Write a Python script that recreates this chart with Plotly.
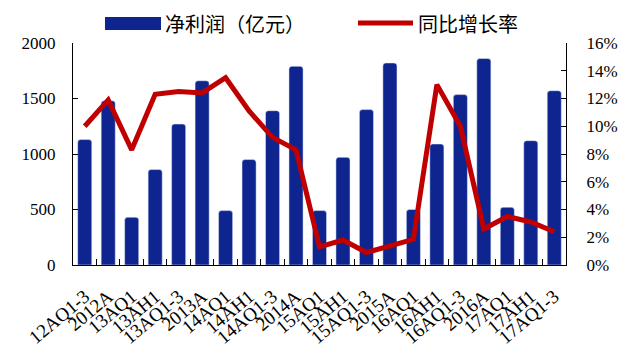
import plotly.graph_objects as go

categories = ["12AQ1-3", "2012A", "13AQ1", "13AH1", "13AQ1-3", "2013A", "14AQ1", "14AH1",
              "14AQ1-3", "2014A", "15AQ1", "15AH1", "15AQ1-3", "2015A", "16AQ1", "16AH1",
              "16AQ1-3", "2016A", "17AQ1", "17AH1", "17AQ1-3"]
net_profit = [1130, 1480, 430, 860, 1270, 1660, 490, 950, 1390, 1790, 490, 970, 1400, 1820,
              500, 1090, 1535, 1860, 520, 1120, 1570]
growth = [10.0, 11.9, 8.3, 12.3, 12.5, 12.4, 13.5, 11.1, 9.2, 8.3, 1.3, 1.8, 0.9, 1.4,
          1.85, 13.0, 10.0, 2.6, 3.5, 3.1, 2.4]
left_ticks = [0, 500, 1000, 1500, 2000]
right_ticks = [0, 2, 4, 6, 8, 10, 12, 14, 16]
name_bar = "净利润（亿元）"
name_line = "同比增长率"

BAR = "#0E2590"
RED = "#C00000"
SERIF = "Liberation Serif, Times New Roman, serif"
CJK = "Noto Sans CJK SC"

L, R, T, B = 73, 62, 43, 98
PW = 628 - L - R
PH = 363 - T - B


def px(x):
    return (x - L) / PW


def py(y):
    return 1 + (T - y) / PH


fig = go.Figure()
fig.add_trace(go.Bar(x=categories, y=net_profit, name=name_bar, marker_color=BAR,
                     width=0.6, showlegend=False))
fig.add_trace(go.Scatter(x=categories, y=growth, name=name_line, yaxis="y2", mode="lines",
                         line=dict(color=RED, width=5), showlegend=False))

fig.update_layout(
    width=628, height=363,
    margin=dict(l=L, r=R, t=T, b=B),
    paper_bgcolor="white", plot_bgcolor="white",
    barcornerradius=3,
    xaxis=dict(type="category", tickangle=-40, showline=True, linecolor="black", linewidth=1,
               ticks="inside", ticklen=6, tickson="boundaries", tickcolor="black",
               ticklabelstandoff=12, automargin=False,
               tickfont=dict(family=SERIF, size=19, color="black"), showgrid=False,
               range=[-0.5, len(categories) - 0.5]),
    yaxis=dict(range=[0, 2000], tickvals=left_ticks, showline=True, linecolor="black",
               ticks="inside", ticklen=5, tickcolor="black", showgrid=False, zeroline=False,
               ticklabelstandoff=13, automargin=False,
               tickfont=dict(family=SERIF, size=17, color="black")),
    yaxis2=dict(range=[0, 16], tickvals=right_ticks, ticktext=[f"{v}%" for v in right_ticks],
                overlaying="y", side="right", showline=True, linecolor="black",
                ticks="inside", ticklen=5, tickcolor="black", showgrid=False, zeroline=False,
                ticklabelstandoff=16, automargin=False,
                tickfont=dict(family=SERIF, size=17, color="black")),
)

# custom legend
fig.add_shape(type="rect", xref="paper", yref="paper", x0=px(105), x1=px(161),
              y0=py(30), y1=py(17), fillcolor=BAR, line_width=0, layer="above")
fig.add_annotation(xref="paper", yref="paper", x=px(163), y=py(24),
                   text=name_bar, showarrow=False, xanchor="left", yanchor="middle",
                   font=dict(family=CJK, size=20, color="black"))
fig.add_shape(type="line", xref="paper", yref="paper", x0=px(358), x1=px(413),
              y0=py(23), y1=py(23), line=dict(color=RED, width=5))
fig.add_annotation(xref="paper", yref="paper", x=px(416), y=py(24),
                   text=name_line, showarrow=False, xanchor="left", yanchor="middle",
                   font=dict(family=CJK, size=20, color="black"))

fig.write_html("out.html")
